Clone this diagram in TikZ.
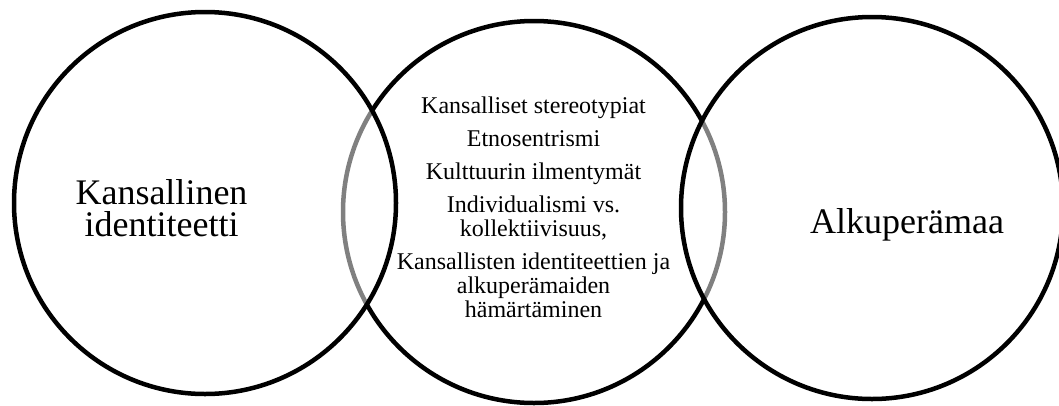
\documentclass[tikz,border=0pt]{standalone}
\usepackage{fontspec}
\setmainfont{Liberation Serif}
\begin{document}
\begin{tikzpicture}[x=1pt,y=-1pt,
  ring/.style={draw=black,line width=4.5pt},
  veil/.style={ring,fill=white,fill opacity=0.5},
  bigtext/.style={inner sep=0pt,align=center,font=\fontsize{36}{27}\selectfont},
  listtext/.style={inner sep=0pt,align=center,font=\fontsize{24}{24}\selectfont}]
  \useasboundingbox (0,0) rectangle (1059,405);
  % middle circle first, so the outer circles' translucent fill greys its arcs
  \draw[ring] (534,212) circle[radius=191pt];
  \draw[veil] (205,203) circle[radius=191pt];
  \draw[veil] (872,208) circle[radius=191pt];
  % labels (base anchor sits on the last line)
  \node[bigtext,anchor=base] (left) at (161.5,236) {Kansallinen\\[5pt]identiteetti};
  \node[bigtext,anchor=base] (right) at (907,233) {Alkuperämaa};
  \node[listtext,anchor=base] (mid) at (533.5,317) {Kansalliset stereotypiat\\[9pt]
    Etnosentrismi\\[9pt]
    Kulttuurin ilmentymät\\[9pt]
    Individualismi vs.\\kollektiivisuus,\\[9pt]
    Kansallisten identiteettien ja\\alkuperämaiden\\hämärtäminen};
\end{tikzpicture}
\end{document}
